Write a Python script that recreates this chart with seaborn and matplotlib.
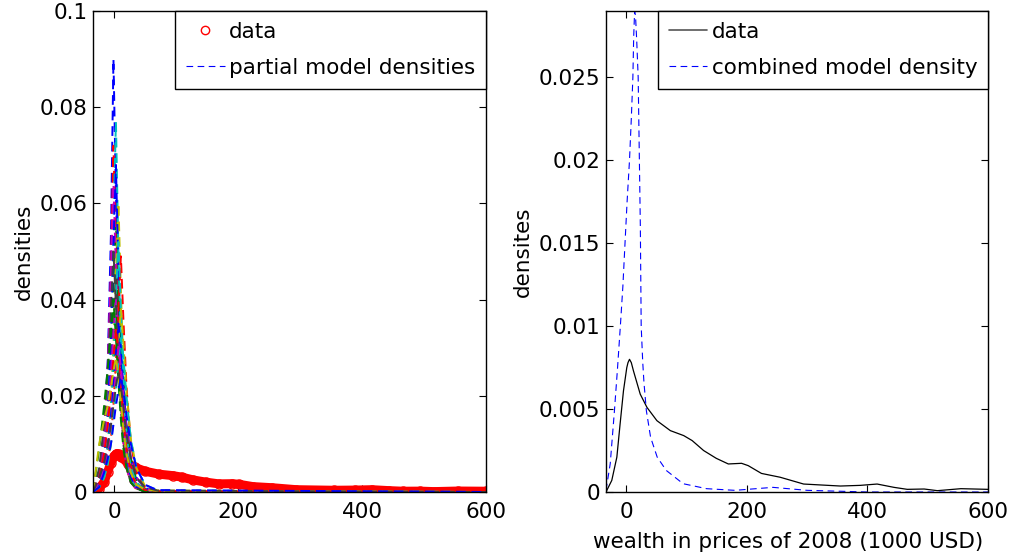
import matplotlib
matplotlib.use("Agg")
import matplotlib.pyplot as plt
from matplotlib.lines import Line2D
import numpy as np
import pandas as pd
import seaborn as sns

# ---------------- data ----------------
# empirical density of wealth (1000 USD, prices of 2008)
data_x = [-34, -24.4, -16, -10.6, -5, 0.5, 2.5, 5, 8, 11.6, 22.8, 34, 50.5,
          72.8, 95, 109, 128, 149, 169, 191, 202, 224, 255, 294, 355, 388,
          416, 444, 466, 494, 516, 555, 600]
data_y = [0.0, 0.0007, 0.0021, 0.0041, 0.0061, 0.0075, 0.0078, 0.0080,
          0.0078, 0.0073, 0.0059, 0.0051, 0.0043, 0.0037, 0.0034, 0.0031,
          0.0025, 0.00203, 0.00169, 0.00173, 0.00159, 0.00112, 0.00089,
          0.00048, 0.00036, 0.0004, 0.00048, 0.00028, 0.00016, 0.00018,
          0.00008, 0.0002, 0.00016]

# combined model density
model_x = [-34, -27, -20, -15, -10, -6, -3, 1, 5, 8, 10.6, 12, 13.5, 15, 17,
           19.4, 21, 23, 24.4, 27, 29, 33, 40, 51, 66, 94, 133, 180, 243, 300,
           400, 600]
model_y = [0.0001, 0.0017, 0.0049, 0.0074, 0.0101, 0.0124, 0.0146, 0.0175,
           0.0200, 0.0225, 0.0250, 0.0275, 0.0290, 0.0287, 0.0272, 0.0250,
           0.0210, 0.0160, 0.0100, 0.0078, 0.0066, 0.0049, 0.0033, 0.0021,
           0.0013, 0.0005, 0.0002, 0.0001, 0.00028, 0.0001, 0.0, 0.0]

# partial model densities (values in units of 1e-3) on a common grid
partial_x = [-34, -24, -16, -10, -5, -1, 3, 7, 11, 15, 20, 27, 36, 50, 70, 600]
partial_e3 = [
    [0, 3, 12, 28, 54, 90, 62, 40, 24, 14, 7, 3, 1, 0.2, 0, 0],
    [0, 2, 7, 15, 29, 44, 56, 42, 28, 17, 9, 4, 1.5, 0.3, 0, 0],
    [0, 3, 10, 24, 46, 72, 50, 32, 19, 11, 5, 2, 0.6, 0.1, 0, 0],
    [0, 2, 8, 18, 36, 56, 77, 50, 30, 17, 8, 3, 1, 0.2, 0, 0],
    [0, 4, 13, 27, 45, 64, 46, 30, 18, 10, 5, 2, 0.6, 0.1, 0, 0],
    [0, 1, 4, 10, 19, 31, 45, 60, 42, 26, 14, 6, 2, 0.4, 0, 0],
    [0, 3, 9, 17, 27, 37, 45, 36, 25, 16, 9, 4, 1.5, 0.3, 0, 0],
    [0, 2, 7, 16, 32, 51, 68, 46, 28, 16, 8, 3, 1, 0.2, 0, 0],
    [0, 1, 4, 9, 16, 25, 34, 42, 34, 24, 14, 7, 2.5, 0.6, 0.1, 0],
    [0, 0.5, 3, 6, 11, 18, 27, 38, 49, 36, 22, 10, 4, 1, 0.2, 0],
    [0, 1, 4, 10, 18, 28, 41, 52, 38, 24, 12, 5, 2, 0.4, 0, 0],
    [0, 3, 9, 16, 25, 33, 40, 33, 24, 15, 8, 4, 1.5, 0.3, 0, 0],
    [0, 1, 3, 6, 10, 16, 23, 31, 38, 31, 21, 11, 5, 1.2, 0.3, 0],
    [0, 5, 14, 26, 38, 50, 39, 27, 17, 10, 5, 2, 0.7, 0.1, 0, 0],
    [0, 2, 5, 10, 16, 22, 29, 35, 30, 22, 14, 7, 3, 0.8, 0.2, 0],
    [0, 9, 18, 26, 33, 40, 32, 23, 15, 9, 5, 2, 0.7, 0.1, 0, 0],
    [0, 3, 8, 14, 21, 28, 34, 29, 22, 15, 9, 4, 1.5, 0.4, 0.1, 0],
    [0, 1, 3, 6, 10, 15, 21, 27, 32, 28, 20, 11, 5, 1.5, 0.3, 0],
    [0, 2, 5, 9, 14, 19, 25, 30, 26, 20, 13, 7, 3, 0.8, 0.2, 0],
    [0, 10, 15, 18, 22, 25, 28, 24, 19, 13, 8, 4, 1.5, 0.5, 0.2, 0],
    [0, 3, 6, 10, 14, 18, 22, 25, 22, 18, 12, 7, 3, 1, 0.3, 0],
    [0, 1, 4, 7, 10, 14, 18, 21, 24, 21, 16, 10, 5, 1.5, 0.4, 0],
]

left_yticks = [0, 0.02, 0.04, 0.06, 0.08, 0.1]
left_yticklabels = ["0", "0.02", "0.04", "0.06", "0.08", "0.1"]
right_yticks = [0, 0.005, 0.01, 0.015, 0.02, 0.025]
right_yticklabels = ["0", "0.005", "0.01", "0.015", "0.02", "0.025"]
xticks = [0, 200, 400, 600]
xticklabels = ["0", "200", "400", "600"]

# ---------------- style ----------------
sns.set_theme(style="ticks")
FS = 15.5
plt.rcParams.update({
    "font.family": ["DejaVu Sans"],
    "font.size": FS,
    "text.color": "black",
    "axes.labelcolor": "black",
    "xtick.direction": "in",
    "ytick.direction": "in",
    "xtick.top": True,
    "ytick.right": True,
    "xtick.major.size": 5,
    "ytick.major.size": 5,
    "xtick.major.width": 0.8,
    "ytick.major.width": 0.8,
    "xtick.major.pad": 7,
    "ytick.major.pad": 4,
    "axes.linewidth": 1.0,
    "axes.edgecolor": "black",
    "xtick.color": "black",
    "ytick.color": "black",
    "xtick.labelsize": FS,
    "ytick.labelsize": FS,
    "axes.labelsize": FS,
    "legend.fontsize": FS,
})

matlab_colors = ["#0000ff", "#008000", "#ff0000", "#00bfbf", "#bf00bf",
                 "#bfbf00", "#404040"]
dash = (0, (5, 3))

fig = plt.figure(figsize=(10.16, 5.58), dpi=100)
ax1 = fig.add_axes([93 / 1016, 66 / 558, 393 / 1016, 481 / 558])
ax2 = fig.add_axes([606 / 1016, 66 / 558, 382 / 1016, 481 / 558])

# ---------------- left panel ----------------
df_data = pd.DataFrame({"x": data_x, "y": data_y})
sns.lineplot(data=df_data, x="x", y="y", ax=ax1, color="red", lw=6.5,
             estimator=None, errorbar=None, sort=False)
sns.lineplot(data=df_data, x="x", y="y", ax=ax1, color="red", lw=0,
             marker="o", markersize=6.5, markerfacecolor="none",
             markeredgecolor="red", markeredgewidth=1.0,
             estimator=None, errorbar=None, sort=False)

for i, vals in enumerate(partial_e3):
    sns.lineplot(x=partial_x, y=np.asarray(vals) / 1000.0, ax=ax1,
                 color=matlab_colors[i % 7], lw=1.4, linestyle=dash,
                 estimator=None, errorbar=None)

ax1.set_xlim(-34, 600)
ax1.set_ylim(0, 0.1)
ax1.set_xticks(xticks)
ax1.set_xticklabels(xticklabels)
ax1.set_yticks(left_yticks)
ax1.set_yticklabels(left_yticklabels)
ax1.set_xlabel("")
ax1.set_ylabel("densities")

h1 = [Line2D([], [], ls="none", marker="o", markersize=6,
             markerfacecolor="none", markeredgecolor="red"),
      Line2D([], [], color=matlab_colors[0], lw=0.8, linestyle=(0, (6, 4)))]
leg1 = ax1.legend(h1, ["data", "partial model densities"], loc="upper right",
                  borderaxespad=0, fancybox=False, framealpha=1,
                  edgecolor="black", handlelength=1.8, handletextpad=0.2,
                  labelspacing=0.75, borderpad=0.5)
leg1.get_frame().set_linewidth(1.0)

# ---------------- right panel ----------------
sns.lineplot(x=data_x, y=data_y, ax=ax2, color="black", lw=0.9,
             estimator=None, errorbar=None)
sns.lineplot(x=model_x, y=model_y, ax=ax2, color="#0000ff", lw=0.8,
             linestyle=(0, (6, 4)), estimator=None, errorbar=None)

ax2.set_xlim(-34, 600)
ax2.set_ylim(0, 0.029)
ax2.set_xticks(xticks)
ax2.set_xticklabels(xticklabels)
ax2.set_yticks(right_yticks)
ax2.set_yticklabels(right_yticklabels)
ax2.set_ylabel("densites")
ax2.set_xlabel("wealth in prices of 2008 (1000 USD)", ha="left")
ax2.xaxis.set_label_coords(-13 / 382, -40 / 481)

h2 = [Line2D([], [], color="#555555", lw=1.2),
      Line2D([], [], color="#0000ff", lw=0.8, linestyle=(0, (6, 4)))]
leg2 = ax2.legend(h2, ["data", "combined model density"], loc="upper right",
                  borderaxespad=0, fancybox=False, framealpha=1,
                  edgecolor="black", handlelength=1.8, handletextpad=0.2,
                  labelspacing=0.75, borderpad=0.5)
leg2.get_frame().set_linewidth(1.0)

for ax in (ax1, ax2):
    for s in ax.spines.values():
        s.set_visible(True)
        s.set_color("black")

fig.savefig("out.png", dpi=100)
